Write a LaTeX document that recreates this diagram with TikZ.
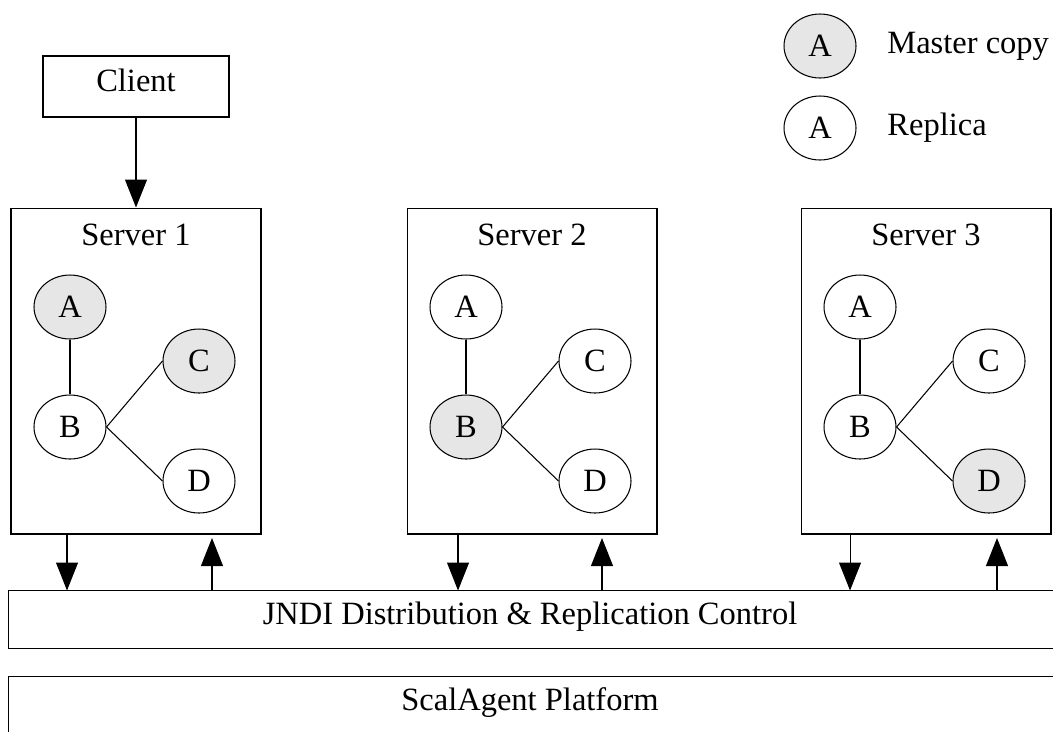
\documentclass[tikz,border=0pt]{standalone}
\usepackage{fontspec}
\setmainfont{Liberation Serif}
\usepackage{tikz}
\usetikzlibrary{arrows.meta}
\tikzset{>={Triangle[length=0.56cm,width=0.44cm]}}
\usetikzlibrary{shapes.geometric}
\definecolor{mastergray}{RGB}{230,230,230}
\tikzset{
  obj/.style={draw, ellipse, minimum width=1.44cm, minimum height=1.28cm, inner sep=0pt},
  master/.style={obj, fill=mastergray},
  server/.style={draw, minimum width=5cm, minimum height=6.52cm, inner sep=0pt},
  layer/.style={minimum width=20.84cm, minimum height=1.14cm, inner sep=0pt, text depth=0.24cm},
}

\begin{document}
\begin{tikzpicture}[x=0.02cm, y=-0.02cm, font=\fontsize{18.5}{22}\selectfont, line width=0.6pt]
    \useasboundingbox (0,0) rectangle (1053,731);
    \clip (0,0) rectangle (1053,731);

    % legend
    \node[master] (lm) at (820,46) {A};
    \node[anchor=west] (lmtext) at (881,46) {Master copy};
    \node[obj] (lr) at (820,128) {A};
    \node[anchor=west] (lrtext) at (881,128) {Replica};

    \node[draw, minimum width=3.72cm, minimum height=1.22cm, text depth=0.24cm] (client) at (136,86.5) {Client};

    \begin{scope}
      \node[server] (s1) at (136,371) {};
      \node (t1) at (136,235) {Server 1};
      \node[master] (a1) at (70,307) {A};
      \node[obj] (b1) at (70,427) {B};
      \node[master] (c1) at (199,361) {C};
      \node[obj] (d1) at (199,481) {D};
      \draw (a1) -- (b1);
      \draw (b1.east) -- (c1.west);
      \draw (b1.east) -- (d1.west);
    \end{scope}

    \begin{scope}
      \node[server] (s2) at (532,371) {};
      \node (t2) at (532,235) {Server 2};
      \node[obj] (a2) at (466,307) {A};
      \node[master] (b2) at (466,427) {B};
      \node[obj] (c2) at (595,361) {C};
      \node[obj] (d2) at (595,481) {D};
      \draw (a2) -- (b2);
      \draw (b2.east) -- (c2.west);
      \draw (b2.east) -- (d2.west);
    \end{scope}

    \begin{scope}
      \node[server] (s3) at (926,371) {};
      \node (t3) at (926,235) {Server 3};
      \node[obj] (a3) at (860,307) {A};
      \node[obj] (b3) at (860,427) {B};
      \node[obj] (c3) at (989,361) {C};
      \node[master] (d3) at (989,481) {D};
      \draw (a3) -- (b3);
      \draw (b3.east) -- (c3.west);
      \draw (b3.east) -- (d3.west);
    \end{scope}

    % the two layers, open on the right
    \node[layer] (jndi) at (530,619.5) {JNDI Distribution \& Replication Control};
    \draw ([xshift=0.2cm]jndi.north east) -- (jndi.north west) -- (jndi.south west) -- ([xshift=0.2cm]jndi.south east);
    \node[layer] (scal) at (530,705.5) {ScalAgent Platform};
    \draw ([xshift=0.2cm]scal.north east) -- (scal.north west) -- ([yshift=-0.4cm]scal.south west);

    \draw[->] (client) -- (s1);
    \draw[->] ([xshift=-1.38cm]s1.south) -- ([xshift=-1.38cm]s1.south |- jndi.north);
    \draw[->, shorten >=2pt] ([xshift=1.52cm]s1.south |- jndi.north) -- ([xshift=1.52cm]s1.south);
    \draw[->] ([xshift=-1.48cm]s2.south) -- ([xshift=-1.48cm]s2.south |- jndi.north);
    \draw[->, shorten >=2pt] ([xshift=1.40cm]s2.south |- jndi.north) -- ([xshift=1.40cm]s2.south);
    \draw[->] ([xshift=-1.52cm]s3.south) -- ([xshift=-1.52cm]s3.south |- jndi.north);
    \draw[->, shorten >=2pt] ([xshift=1.42cm]s3.south |- jndi.north) -- ([xshift=1.42cm]s3.south);
  \end{tikzpicture}
\end{document}
